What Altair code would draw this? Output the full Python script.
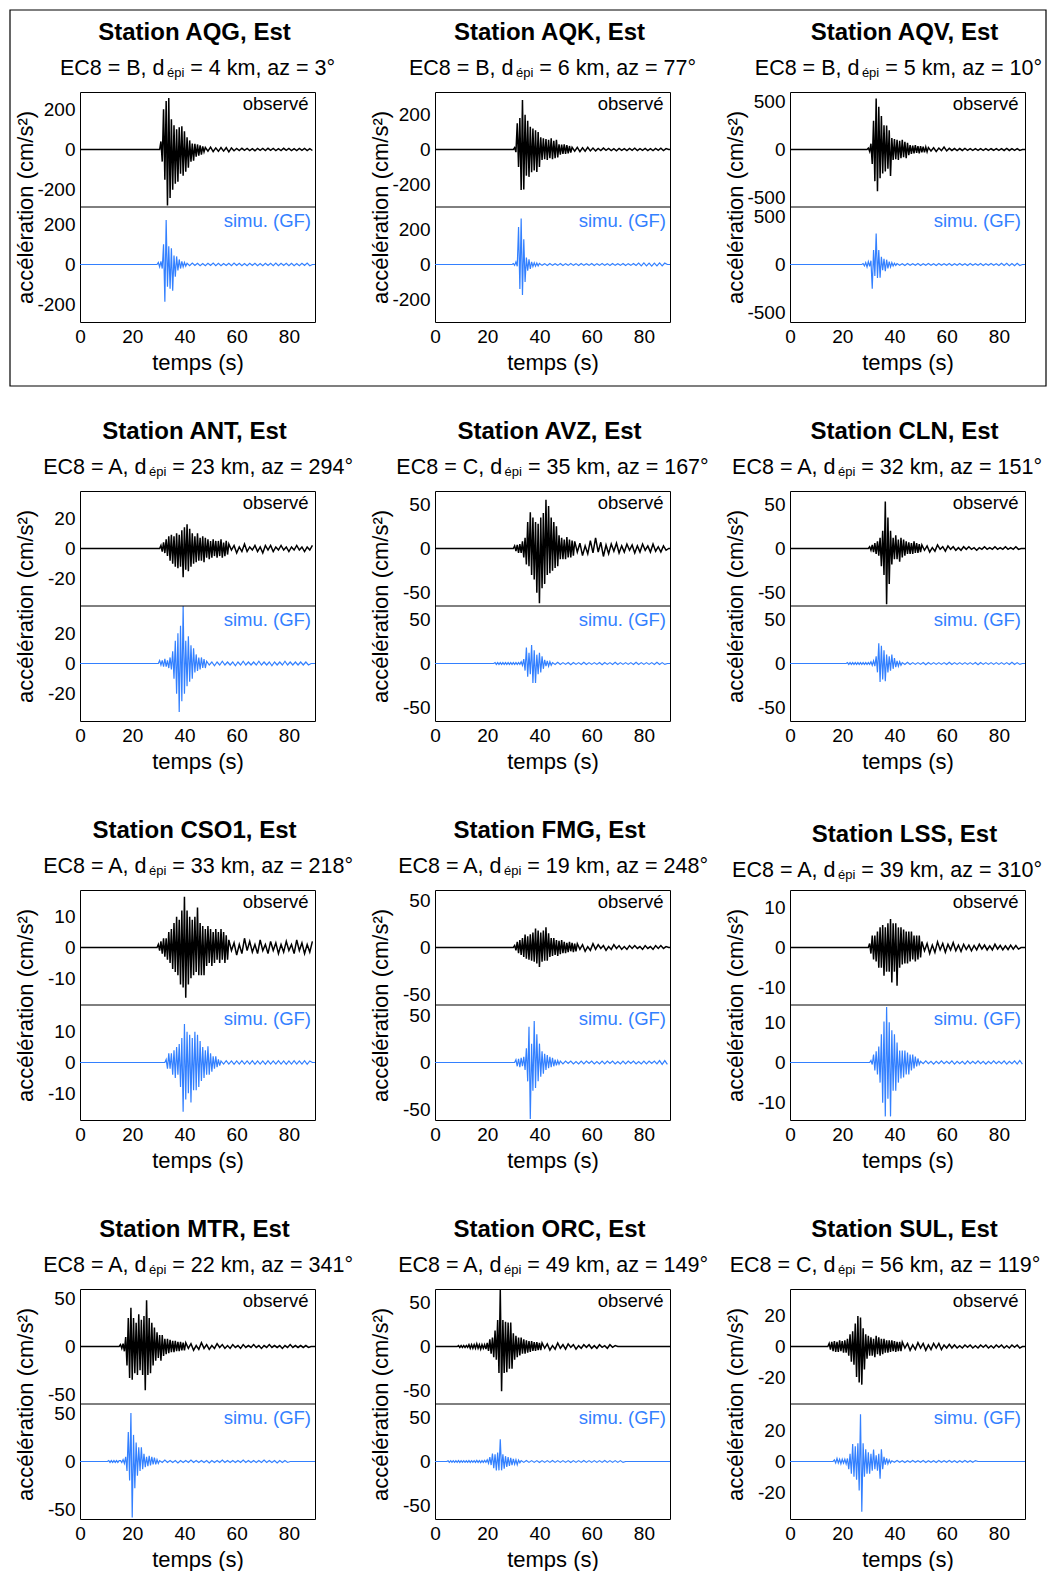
import altair as alt
import pandas as pd

FONT = "Liberation Sans"
BLUE = "#3380ff"
W, H = 235, 230
COL_GAP = 120
BOX_RIGHT = 966

# ---------------- station metadata ----------------
STATIONS = ["AQG", "AQK", "AQV", "ANT", "AVZ", "CLN", "CSO1", "FMG", "LSS", "MTR", "ORC", "SUL"]
EC8 = ["B", "B", "B", "A", "C", "A", "A", "A", "A", "A", "A", "C"]
DEPI = [4, 6, 5, 23, 35, 32, 33, 19, 39, 22, 49, 56]
AZ = [3, 77, 10, 294, 167, 151, 218, 248, 310, 341, 149, 119]
YLIM = [285, 330, 600, 38, 65, 65, 18.7, 61, 14.3, 60.5, 65, 37.7]
YTICKS = [[-200, 0, 200], [-200, 0, 200], [-500, 0, 500], [-20, 0, 20], [-50, 0, 50], [-50, 0, 50],
          [-10, 0, 10], [-50, 0, 50], [-10, 0, 10], [-50, 0, 50], [-50, 0, 50], [-20, 0, 20]]
XTICKS = [0, 20, 40, 60, 80]

# ---------------- waveforms (cm/s2), peaks read every 0.5 s from onset, coda every 1 s ----------------
OBS_T0 = [31, 30.5, 30, 31, 30.5, 30.5, 30, 30.5, 30.5, 15.5, 9, 15]
SIM_T0 = [30, 30, 28, 30.5, 23, 22, 33, 31, 31, 11, 5, 17]

OBS_AQG = [40, -60, 200, -150, 240, -278, 255, -240, 150, -200, 120, -170, 100, -160, 110, -120, 115, -130, 90, -110,
           60, -90, 45, -60, 30, -55, 28, -35, 25, -30, 20, -25, 15, -12]
OBS_AQG_CODA = [10, -8, 12, -10, 8, -9, 10, -8, 9, -12, 8, -6, 5, -5, 6, -4, 5, -5, 4, -6, 5, -4, 5, -5, 6, -4, 5, -5,
                4, -5, 6, -4, 5, -5, 4, -5, 5, -4, 5, -5, 4, -5]
SIM_AQG = [10, -12, 15, -20, 100, -185, 220, -110, 90, -120, 80, -130, 45, -60, 40, -30, 25, -20, 15, -12, 10, -8]
SIM_AQG_CODA = [6, -6, 7, -5, 6, -6, 5, -6, 6, -5, 7, -6, 6, -6, 5, -5, 6, -6, 7, -5, 6, -6, 5, -6, 6, -5, 6, -6, 5,
                -6, 6, -5, 6, -6, 7, -6, 6, -5, 6, -6, 6, -6, 5, -6, 6, -5, 7, -6]

OBS_AQK = [10, -15, 150, -100, 180, -233, 284, -230, 200, -150, 165, -157, 130, -130, 120, -120, 110, -129, 100, -100,
           70, -60, 65, -55, 60, -60, 55, -50, 65, -55, 50, -50, 55, -45, 30, -30, 28, -25, 30, -25, 25, -22, 20, -18]
OBS_AQK_CODA = [12, -10, 12, -12, 10, -10, 12, -8, 8, -8, 6, -6, 8, -5, 6, -6, 5, -7, 6, -5, 5, -6, 6, -5, 7, -6, 5,
                -5, 6, -6, 5, -6, 6, -5, 7, -6, 5]
SIM_AQK = [5, -5, 15, -10, 215, -141, 264, -175, 145, -100, 40, -35, 30, -25, 15, -12, 10, -10, 8, -8]
SIM_AQK_CODA = [6, -5, 5, -6, 6, -5, 5, -5, 6, -6, 5, -5, 6, -5, 5, -6, 6, -5, 5, -5, 6, -6, 5, -5, 6, -5, 5, -6, 6,
                -5, 5, -5, 6, -6, 5, -5, 6, -6, 8, -8, 9, -8, 8, -9, 8, -8, 9, -8, 8]

OBS_AQV = [15, -20, 60, -150, 300, -330, 532, -436, 445, -300, 350, -250, 253, -230, 250, -200, 200, -275, 120, -110,
           110, -100, 100, -110, 90, -90, 100, -80, 80, -90, 70, -60, 45, -45, 40, -40, 45, -35, 35, -40, 35, -30, 30,
           -30, 25, -25]
OBS_AQV_CODA = [20, -15, 18, -20, 15, -12, 25, -15, 12, -10, 10, -12, 10, -10, 12, -8, 10, -10, 8, -10, 10, -8, 10,
                -10, 8, -8, 10, -10, 8, -10, 12, -10, 10, -8, 10, -10]
SIM_AQV = [10, -15, 20, -25, 30, -20, 40, -253, 150, -120, 322, -140, 150, -138, 80, -60, 60, -70, 50, -40, 30, -25,
           20, -15, 12, -10]
SIM_AQV_CODA = [10, -8, 8, -10, 10, -8, 8, -8, 10, -10, 8, -8, 10, -8, 8, -10, 10, -8, 8, -8, 10, -10, 8, -8, 10, -8,
                8, -10, 10, -8, 8, -8, 10, -10, 8, -8, 10, -8, 8, -10, 12, -10, 12, -12, 10, -12, 12, -10]

OBS_ANT = [2, -2, 4, -3, 6, -5, 8, -8, 9, -10, 8, -12, 10, -13, 9, -12, 12, -19, 14, -14, 16, -15, 13, -12, 10, -10, 8,
           -9, 10, -8, 7, -8, 8, -9, 7, -6, 6, -7, 5, -6, 6, -5, 5, -6, 5, -5, 6, -6, 4, -5, 5, -4]
OBS_ANT_CODA = [3, -1, 2, -3, 1, -2, 3, -2, 1, -1, 2, -2, 1, -3, 2, -1, 2, -2, 1, -1, 2, -1, 1, -2, 1, -1, 2, -1, 1,
                -2, 1, -1, 2]
SIM_ANT = [2, -1, 2, -2, 3, -2, 2, -3, 4, -4, 8, -10, 15, -20, 20, -32, 25, -25, 38, -20, 15, -15, 18, -12, 12, -10,
           10, -6, 6, -5, 4, -4, 4, -3, 3, -3]
SIM_ANT_CODA = [1.5, -1, 1, -1.5, 1, -1, 1.5, -1, 1, -1, 1, -1.5, 1, -1, 1.5, -1, 1, -1, 1, -1, 1.5, -1, 1, -1, 1,
                -1.5, 1, -1, 1, -1, 1.5, -1, 1, -1, 1, -1, 1, -1, 1, -1]

OBS_AVZ = [3, -3, 4, -5, 5, -5, 8, -10, 12, -18, 30, -20, 41, -30, 35, -35, 30, -50, 28, -62, 35, -45, 40, -40, 55,
           -30, 48, -28, 35, -25, 30, -22, 25, -20, 15, -12, 12, -12, 10, -12, 13, -10, 10, -10, 9, -8]
OBS_AVZ_CODA = [8, -4, 6, -8, 3, -6, 9, -5, 12, -4, 7, -9, 4, -6, 5, -3, 6, -5, 3, -4, 5, -2, 4, -5, 3, -4, 5, -2, 3,
                -4, 5, -3, 2, -4, 3, -2]
SIM_AVZ = [1, -1, 1, -1, 1, -1, 1, -1, 1, -1, 1, -1, 1, -1, 1, -1, 1, -1, 1, -1,
           2, -2, 5, -8, 18, -15, 12, -12, 21, -22, 15, -22, 10, -12, 12, -10, 8, -6, 4, -3, 3, -3, 2, -2]
SIM_AVZ_CODA = [1, -1, 1.5, -1, 1, -1, 1, -1.5, 1, -1, 1, -1, 1.5, -1, 1, -1, 1, -1, 1, -1.5, 1, -1, 1, -1, 1.5, -1,
                1, -1, 1, -1, 1, -1, 1.5, -1, 1, -1, 1, -1, 1, -1, 1.5, -1, 1, -1]

OBS_CLN = [2, -2, 4, -4, 6, -6, 8, -8, 12, -20, 20, -30, 53, -63, 35, -40, 20, -18, 12, -12, 15, -12, 10, -15, 12,
           -10, 10, -8, 8, -6, 7, -6, 6, -6, 8, -5, 6, -5, 5, -4]
OBS_CLN_CODA = [4, -2, 3, -4, 1, -3, 4, -1, 2, -3, 3, -1, 2, -2, 1, -2, 2, -1, 2, -1, 1, -2, 1, -1, 2, -1, 1, -1, 2,
                -1, 1, -1, 2, -1, 1, -1, 2, -1]
SIM_CLN = [1, -1, 1, -1, 1, -1, 1, -1, 1, -1, 1, -1, 1, -1, 1, -1, 1, -1,
           2, -2, 3, -3, 8, -10, 23, -21, 20, -18, 15, -20, 10, -10, 8, -8, 10, -6, 6, -4, 3, -3, 2, -2]
SIM_CLN_CODA = [1, -1, 1.5, -1, 1, -1, 1, -1, 1, -1.5, 1, -1, 1, -1, 1, -1, 1, -1, 1.5, -1, 1, -1, 1, -1, 1, -1, 1,
                -1, 1, -1.5, 1, -1, 1, -1, 1, -1, 1, -1, 1, -1, 1, -1, 1.5, -1, 1, -1]

OBS_CSO1 = [1, -1, 2, -2, 3, -3, 3, -4, 5, -5, 6, -7, 8, -8, 10, -9, 9, -12, 12, -13, 16.5, -16.3, 12, -12, 10, -10,
            9, -9, 10, -8, 13, -9, 8, -9, 7, -9, 6, -6, 7, -5, 6, -6, 5, -5, 6, -4, 5, -5, 6, -4, 5, -5, 4, -4]
OBS_CSO1_CODA = [2.5, -1, 1.5, -2.5, 1, -2, 3, -1, 2, -1.5, 1, -2, 2.5, -1, 1, -2, 2, -1, 1.5, -2, 1, -1.5, 2, -1, 1,
                 -2, 2.5, -1, 1.5, -2, 1, -1.5, 2]
SIM_CSO1 = [1, -2, 3, -2, 3, -4, 4, -5, 5, -4, 6, -8, 8, -16, 12.5, -12, 10, -10, 9, -13, 8, -9, 10, -9, 9, -8, 7,
            -6, 5, -5, 4, -4, 5.3, -4, 3, -3, 2, -2, 2, -1.5, 1, -1]
SIM_CSO1_CODA = [0.5, -0.5, 0.6, -0.5, 0.5, -0.6, 0.5, -0.5, 0.6, -0.5, 0.5, -0.5, 0.6, -0.6, 0.5, -0.5, 0.5, -0.6,
                 0.6, -0.5, 0.5, -0.5, 0.6, -0.5, 0.5, -0.6, 0.5, -0.5, 0.6, -0.5, 0.5, -0.5, 0.6, -0.6, 0.5]

OBS_FMG = [2, -3, 6, -6, 8, -8, 10, -10, 13.8, -12, 12, -13, 14, -14, 16, -15, 20, -17, 18, -20.7, 16, -15, 18, -14,
           21.4, -14, 15, -10, 10, -9, 10, -8, 8, -9, 7, -7, 8, -6, 6, -6, 5, -5, 6, -4, 5, -5, 4, -4]
OBS_FMG_CODA = [4, -2, 3, -4, 1, -3, 4, -2, 3, -1, 2, -3, 1, -2, 3, -1, 2, -2, 1, -2, 2, -1, 2, -1, 1, -2, 2, -1, 1,
                -2, 2, -1, 2, -1, 1]
SIM_FMG = [3, -4, 4, -5, 5, -4, 6, -8, 15, -20, 38, -60, 20, -30, 44, -27, 30, -20, 20, -15, 12, -12, 9.3, -8, 8, -6,
           6, -5, 5, -4, 3, -3, 2, -2]
SIM_FMG_CODA = [1.5, -1.5, 1.5, -1, 1.5, -1.5, 1, -1.5, 1.5, -1.5, 1.5, -1, 1.5, -1.5, 1, -1.5, 1.5, -1.5, 1.5, -1,
                1.5, -1.5, 1, -1.5, 1.5, -1.5, 1.5, -1, 1.5, -1.5, 1, -1.5, 1.5, -1.5, 1.5, -1, 1.5, -1.5, 2, -2, 2,
                -2]

OBS_LSS = [1, -1.5, 3, -3, 3, -3.5, 4, -5, 5, -5, 5.6, -7, 5, -6, 6, -6, 7.1, -8.7, 6, -6, 6, -9.5, 5, -5, 5, -4.2,
           4.5, -4, 4, -4, 4, -3.5, 4, -3, 3, -3.5, 3, -3, 3, -2.5]
OBS_LSS_CODA = [1.5, -0.8, 1, -1.5, 0.6, -1.2, 1.4, -0.6, 1, -1.2, 0.8, -0.6, 1.2, -0.8, 0.6, -1, 0.8, -0.5, 0.6,
                -0.8, 0.5, -0.6, 0.8, -0.4, 0.6, -0.6, 0.4, -0.6, 0.8, -0.4, 0.5, -0.6, 0.4, -0.5, 0.6, -0.4, 0.5,
                -0.4]
SIM_LSS = [0.5, -0.5, 2, -2, 2.8, -3, 4, -5, 7, -10, 10.2, -13.4, 13.8, -9, 10, -13.4, 8, -7, 7, -7, 5, -5, 3, -4,
           3, -3.7, 3, -3, 2.5, -3, 2, -2, 2, -1.5, 1.5, -1, 1, -0.5]
SIM_LSS_CODA = [0.3, -0.3, 0.4, -0.3, 0.3, -0.4, 0.3, -0.3, 0.4, -0.3, 0.3, -0.3, 0.4, -0.4, 0.3, -0.3, 0.3, -0.4,
                0.4, -0.3, 0.3, -0.3, 0.4, -0.3, 0.3, -0.4, 0.3, -0.3, 0.4, -0.3, 0.3, -0.3, 0.4, -0.4, 0.3, -0.3,
                0.4, -0.4, 0.5, -0.4]

OBS_MTR = [2, -2, 3, -5, 10, -20, 30, -33, 40.8, -35, 30, -28, 25, -30, 34, -25, 28, -30, 32, -46, 48.6, -30, 30, -28,
           25, -20, 20, -15, 15, -12, 12, -15, 12, -10, 8, -8, 8, -7, 7, -6, 6, -6, 6, -5, 5, -5, 5, -4, 4, -4]
OBS_MTR_CODA = [4, -2, 3, -4, 1, -3, 4, -2, 2, -3, 1, -2, 3, -1, 2, -2, 1, -2, 2, -1, 1, -2, 2, -1, 1, -1, 2, -1, 1,
                -2, 1, -1, 2, -1, 1, -1, 1, -2, 1, -1, 2, -1, 1, -1, 1, -1, 1, -1]
SIM_MTR = [1, -1, 1, -1, 1, -1, 1, -1, 1,
           1, -1, 2, -2, 5, -10, 31, -20, 51, -59, 28, -28, 20, -15, 15, -10, 15, -8, 8, -6, 5, -5, 6, -4, 5, -3, 4,
           -3, 2, -2]
SIM_MTR_CODA = [1, -1, 1.5, -1, 1, -1, 1, -1.5, 1, -1, 1, -1, 1.5, -1, 1, -1, 1, -1, 1, -1.5, 1, -1, 1, -1, 1.5, -1,
                1, -1, 1, -1, 1, -1, 1.5, -1, 1, -1, 1, -1, 1, -1, 1.5, -1, 1, -1, 1, -1.5, 1, -1, 1, -1]

OBS_ORC = [1, -1, 1, -1, 1, -1, 1, -1, 2, -2, 2, -2, 2, -2, 3, -2, 2, -3, 2, -2,
           2, -3, 4, -5, 8, -8, 10, -12, 18, -15, 30, -30, 64, -50.7, 30, -30, 28, -29, 27, -25, 27, -25, 15, -15, 12,
           -12, 10, -10, 10, -8, 8, -8, 7, -7, 6, -6, 6, -5, 5, -5, 5, -4, 4, -4]
OBS_ORC_CODA = [4, -2, 3, -4, 1, -3, 4, -2, 2, -3, 3, -1, 2, -3, 1, -2, 2, -1, 2, -2, 1, -2, 2, -1, 1, -2, 2, -1, 1]
SIM_ORC = [0.8, -1, 1, -0.8, 1, -1, 0.8, -1, 1, -1, 1, -0.8, 1, -1, 0.8, -1, 1, -1, 1, -0.8, 1, -1, 1.2, -1, 1, -1.2,
           1, -1, 1.2, -1,
           2, -2, 5, -4, 9, -7.5, 8, -10, 10, -10, 25, -10, 8, -8, 6, -6, 5, -5, 4, -4, 3, -3, 2, -3.7, 1.5, -1.5]
SIM_ORC_CODA = [1, -1, 1.2, -1, 1, -1, 1, -1.2, 1, -1, 1, -1, 1.2, -1, 1, -1, 1, -1, 1, -1.2, 1, -1, 1, -1, 1.2, -1,
                1, -1, 1, -1, 1, -1, 1.2, -1, 1, -1, 1, -1, 1, -1]

OBS_SUL = [2, -2, 3, -3, 3.5, -3.5, 3, -3.5, 4, -3, 3.5, -4, 4, -4, 5, -6, 8, -10, 10, -12, 15, -20, 20, -23.6, 19,
           -25, 12, -15, 8, -8, 7, -6, 6, -6, 5, -7, 7, -5, 6, -6, 5, -5, 5, -4, 4, -4, 4, -3.5, 4, -3, 3.5, -3.5, 3,
           -3, 3, -3]
OBS_SUL_CODA = [3, -1, 2, -2.5, 1, -2, 2.5, -1, 2, -2.5, 1, -2, 2, -1, 2, -2, 1, -1, 1.5, -1, 1, -1, 0.5, -1, 1, -0.5,
                1, -1, 0.5, -1, 1, -0.5, 1, -1, 0.5, -1, 1, -0.5, 1, -1, 0.5, -1, 1, -0.5, 1, -1]
SIM_SUL = [1, -1, 2, -1, 1.5, -1.5, 1.5, -1, 1.5, -1.5, 2, -5, 5, -8, 11.5, -10, 10, -12, 12, -19, 31, -33, 12, -10,
           8, -8, 6, -8, 5, -6, 7.8, -5, 4, -6, 5, -11.3, 8, -5, 3, -2, 2, -1.5, 1, -1]
SIM_SUL_CODA = [0.5, -0.5, 0.6, -0.5, 0.5, -0.6, 0.5, -0.5, 0.6, -0.5, 0.5, -0.5, 0.6, -0.6, 0.5, -0.5, 0.5, -0.6,
                0.6, -0.5, 0.5, -0.5, 0.6, -0.5, 0.5, -0.6, 0.5, -0.5, 0.6, -0.5, 0.5, -0.5, 0.6]

OBS = [(OBS_AQG, OBS_AQG_CODA), (OBS_AQK, OBS_AQK_CODA), (OBS_AQV, OBS_AQV_CODA), (OBS_ANT, OBS_ANT_CODA),
       (OBS_AVZ, OBS_AVZ_CODA), (OBS_CLN, OBS_CLN_CODA), (OBS_CSO1, OBS_CSO1_CODA), (OBS_FMG, OBS_FMG_CODA),
       (OBS_LSS, OBS_LSS_CODA), (OBS_MTR, OBS_MTR_CODA), (OBS_ORC, OBS_ORC_CODA), (OBS_SUL, OBS_SUL_CODA)]
SIM = [(SIM_AQG, SIM_AQG_CODA), (SIM_AQK, SIM_AQK_CODA), (SIM_AQV, SIM_AQV_CODA), (SIM_ANT, SIM_ANT_CODA),
       (SIM_AVZ, SIM_AVZ_CODA), (SIM_CLN, SIM_CLN_CODA), (SIM_CSO1, SIM_CSO1_CODA), (SIM_FMG, SIM_FMG_CODA),
       (SIM_LSS, SIM_LSS_CODA), (SIM_MTR, SIM_MTR_CODA), (SIM_ORC, SIM_ORC_CODA), (SIM_SUL, SIM_SUL_CODA)]

# ---------------- helpers ----------------
ARIAL = {" ": 278, ",": 278, "=": 584, "°": 400, "A": 667, "B": 667, "C": 722, "E": 667,
         "a": 556, "d": 556, "k": 500, "m": 833, "z": 500, "é": 556, "p": 556, "i": 222}


def text_w(s, size):
    return sum(ARIAL.get(c, 556) for c in s) * size / 1000.0


def trace_rows(t0, main, coda, name):
    ts, vs = [0.0, t0 - 0.5], [0.0, 0.0]
    t = t0
    for v in main:
        ts.append(t); vs.append(v); t += 0.5
    for v in coda:
        ts.append(t); vs.append(v); t += 1.0
    if t < 90:
        ts += [t, 90.0]; vs += [0.0, 0.0]
    return [{"t": a, "v": b, "trace": name} for a, b in zip(ts, vs)]


def one(value_dict):
    return pd.DataFrame([value_dict])


SUB_FS = 21.5
SCRIPT_FS = 13
TITLE_Y = -52
SUB_Y = -17


def station_chart(i):
    R = YLIM[i]
    rows = trace_rows(OBS_T0[i], OBS[i][0], OBS[i][1], "obs") + trace_rows(SIM_T0[i], SIM[i][0], SIM[i][1], "sim")
    df = pd.DataFrame(rows)
    vals = [tk + R for tk in YTICKS[i]] + [tk - R for tk in YTICKS[i]]
    yenc = alt.Y("pos:Q", scale=alt.Scale(domain=[-2 * R, 2 * R], nice=False, zero=False),
                 axis=alt.Axis(values=vals,
                               labelExpr=f"round(datum.value > 0 ? datum.value - {R} : datum.value + {R})",
                               title="accélération (cm/s²)", titleX=-55, titleY=H / 2, titleAngle=270,
                               titleAlign="center", titleBaseline="middle"))
    xenc = alt.X("t:Q", scale=alt.Scale(domain=[0, 90], nice=False, zero=False),
                 axis=alt.Axis(values=XTICKS, title="temps (s)", format="d"))
    base = alt.Chart(df).transform_calculate(
        pos=f"datum.trace == 'obs' ? datum.v + {R} : datum.v - {R}")
    obs = base.transform_filter("datum.trace == 'obs'").mark_line(
        color="black", strokeWidth=1.5, clip=True).encode(x=xenc, y=yenc)
    sim = base.transform_filter("datum.trace == 'sim'").mark_line(
        color=BLUE, strokeWidth=1.2, clip=True).encode(x=xenc, y=yenc)

    sep = alt.Chart(one({"k": 0})).mark_rule(color="black", strokeWidth=1).encode(y=alt.value(H / 2))
    lab_obs = alt.Chart(one({"s": "observé"})).mark_text(
        font=FONT, fontSize=18.5, align="right", baseline="alphabetic", color="black").encode(
        text="s:N", x=alt.value(W - 6.5), y=alt.value(18))
    lab_sim = alt.Chart(one({"s": "simu. (GF)"})).mark_text(
        font=FONT, fontSize=18.5, align="right", baseline="alphabetic", color=BLUE).encode(
        text="s:N", x=alt.value(W - 4), y=alt.value(H / 2 + 19.5))

    dy = 4 if STATIONS[i] == "LSS" else 0
    title = alt.Chart(one({"s": f"Station {STATIONS[i]}, Est"})).mark_text(
        font=FONT, fontSize=24, fontWeight="bold", align="center", baseline="alphabetic", color="black").encode(
        text="s:N", x=alt.value(W / 2 - 3), y=alt.value(TITLE_Y + dy))

    p1 = f"EC8 = {EC8[i]}, d"
    p2 = "épi"
    p3 = f"= {DEPI[i]} km, az = {AZ[i]}°"
    gap = 2.5
    space = text_w(" ", SUB_FS)
    total = text_w(p1, SUB_FS) + gap + text_w(p2, SCRIPT_FS) + space + text_w(p3, SUB_FS)
    left = W / 2 - total / 2
    col = i % 3
    max_right = BOX_RIGHT - col * (W + COL_GAP) - 4
    if left + total > max_right:
        left = max_right - total
    x1 = left + text_w(p1, SUB_FS)
    x2 = x1 + gap
    x3 = x2 + text_w(p2, SCRIPT_FS) + space
    s1 = alt.Chart(one({"s": p1})).mark_text(
        font=FONT, fontSize=SUB_FS, align="right", baseline="alphabetic", color="black").encode(
        text="s:N", x=alt.value(x1), y=alt.value(SUB_Y + dy))
    s2 = alt.Chart(one({"s": p2})).mark_text(
        font=FONT, fontSize=SCRIPT_FS, align="left", baseline="alphabetic", color="black").encode(
        text="s:N", x=alt.value(x2), y=alt.value(SUB_Y + dy + 2))
    s3 = alt.Chart(one({"s": p3})).mark_text(
        font=FONT, fontSize=SUB_FS, align="left", baseline="alphabetic", color="black").encode(
        text="s:N", x=alt.value(x3), y=alt.value(SUB_Y + dy))

    layers = [obs, sim, sep, lab_obs, lab_sim, title, s1, s2, s3]
    if i == 0:
        box = alt.Chart(one({"k": 0})).mark_rect(
            fillOpacity=0, stroke="black", strokeWidth=1.2).encode(
            x=alt.value(-70), x2=alt.value(BOX_RIGHT), y=alt.value(-82), y2=alt.value(H + 64))
        layers.append(box)
    return alt.layer(*layers).properties(width=W, height=H)


charts = [station_chart(i) for i in range(len(STATIONS))]

chart = alt.concat(
    *charts, columns=3, spacing={"row": 169, "column": COL_GAP}, bounds="flush", padding=0
).configure_view(
    stroke="black", strokeWidth=1
).configure_axis(
    labelFont=FONT, titleFont=FONT, labelFontSize=19, titleFontSize=22, titleFontWeight="normal",
    labelColor="black", titleColor="black", grid=False, domain=False, ticks=False, tickSize=0,
    labelFlush=False, labelOverlap=False
).configure_axisX(
    labelPadding=5, titlePadding=6
).configure_axisY(
    labelPadding=5
)

chart.save("out.html", embed_options={"renderer": "svg", "actions": False})
